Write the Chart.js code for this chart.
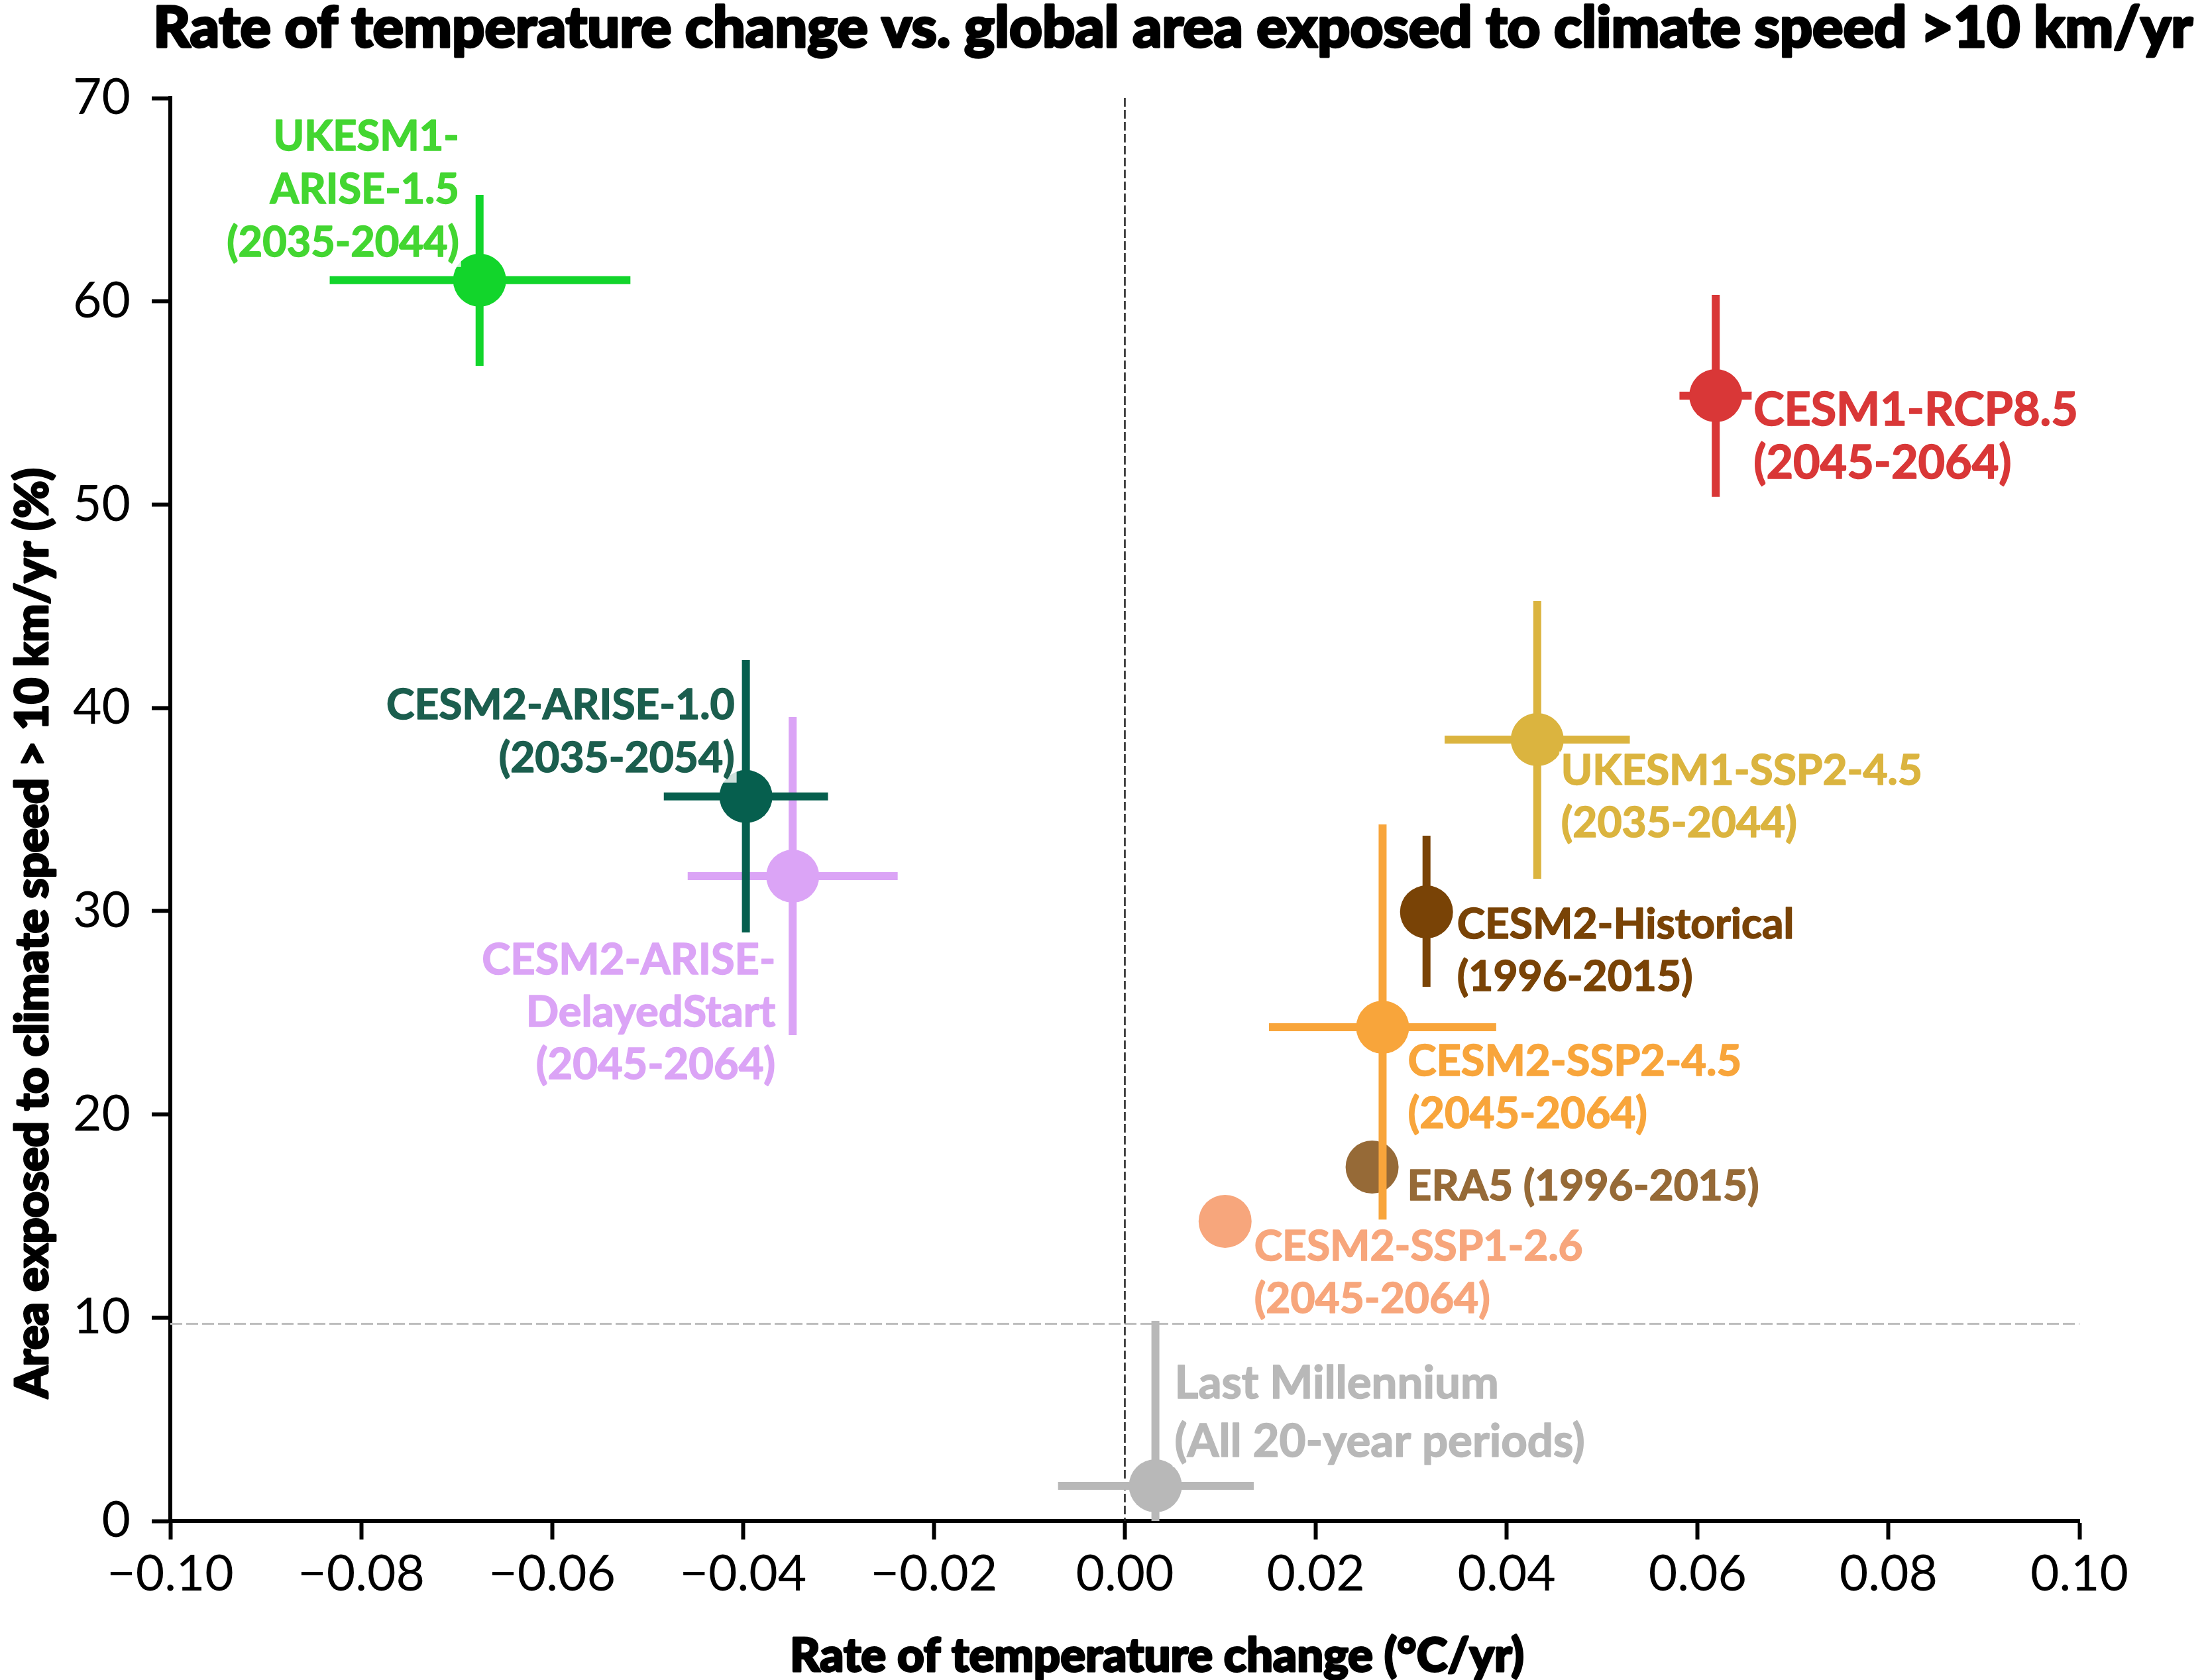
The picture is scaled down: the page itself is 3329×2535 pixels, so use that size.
<!DOCTYPE html>
<html>
<head>
<meta charset="utf-8">
<script src="https://cdn.jsdelivr.net/npm/chart.js@4.4.1/dist/chart.umd.min.js"></script>
<style>
  html, body { margin: 0; padding: 0; background: #fff; }
  #wrap { width: 3329px; height: 2535px; }
</style>
</head>
<body>
<div id="wrap"><canvas id="speedChart" width="3329" height="2535"></canvas></div>
<script>
// Experimentos, en orden de dibujo (el último queda encima)
const names = [
    'Last Millennium', 'ERA5', 'CESM2-SSP1-2.6', 'CESM2-SSP2-4.5', 'CESM2-Historical',
    'UKESM1-SSP2-4.5', 'CESM1-RCP8.5', 'CESM2-ARISE-DelayedStart', 'CESM2-ARISE-1.0', 'UKESM1-ARISE-1.5'
];
const labelLines = [
    ['Last Millennium', '(All 20-year periods)'],
    ['ERA5 (1996-2015)'],
    ['CESM2-SSP1-2.6', '(2045-2064)'],
    ['CESM2-SSP2-4.5', '(2045-2064)'],
    ['CESM2-Historical', '(1996-2015)'],
    ['UKESM1-SSP2-4.5', '(2035-2044)'],
    ['CESM1-RCP8.5', '(2045-2064)'],
    ['CESM2-ARISE-', 'DelayedStart', '(2045-2064)'],
    ['CESM2-ARISE-1.0', '(2035-2054)'],
    ['UKESM1-', 'ARISE-1.5', '(2035-2044)']
];

// Tasa de cambio de temperatura (°C/año) y su rango
const rate   = [0.0032, 0.0259, 0.0105, 0.0270, 0.0316, 0.0432, 0.0619, -0.0348, -0.0397, -0.0676];
const rateLo = [-0.0070, null, null, 0.0151, null, 0.0335, 0.0581, -0.0458, -0.0483, -0.0833];
const rateHi = [0.0135, null, null, 0.0389, null, 0.0529, 0.0657, -0.0238, -0.0311, -0.0518];

// Área expuesta a velocidad climática > 10 km/año (%) y su rango
const area   = [1.73, 17.41, 14.74, 24.29, 29.96, 38.44, 55.36, 31.72, 35.64, 61.04];
const areaLo = [-6.4, null, null, 14.83, 26.28, 31.59, 50.38, 23.90, 28.95, 56.83];
const areaHi = [9.85, null, null, 34.27, 33.71, 45.25, 60.32, 39.55, 42.35, 65.24];

const colors = ['#b8b8b8', '#966a37', '#f7a67c', '#f8a53b', '#794306', '#dbb43f', '#d93737', '#dba4f6', '#065f4e', '#12d52b'];
const labelColors = ['#b8b8b8', '#966a37', '#f7a67c', '#f8a53b', '#794306', '#dbb43f', '#d93737', '#dba4f6', '#1b5e4e', '#43d631'];

const xTicks = [-0.10, -0.08, -0.06, -0.04, -0.02, 0.00, 0.02, 0.04, 0.06, 0.08, 0.10];
const yTicks = [0, 10, 20, 30, 40, 50, 60, 70];

const refRate = 0;    // línea vertical discontinua
const refArea = 9.7;  // línea horizontal gris (máximo del último milenio)

// Posición de cada etiqueta respecto al marcador (px)
const labelPos = [
    { align: 'left',  dx: 29,  dy: -132, lh: 88, size: 69 },
    { align: 'left',  dx: 53,  dy: 50,   lh: 79, size: 64 },
    { align: 'left',  dx: 44,  dy: 59,   lh: 79, size: 64 },
    { align: 'left',  dx: 38,  dy: 73,   lh: 79, size: 65 },
    { align: 'left',  dx: 46,  dy: 40,   lh: 79, size: 64 },
    { align: 'left',  dx: 36,  dy: 68,   lh: 79, size: 64 },
    { align: 'left',  dx: 57,  dy: 45,   lh: 80, size: 70 },
    { align: 'right', dx: -26, dy: 148,  lh: 79, size: 65 },
    { align: 'right', dx: -17, dy: -117, lh: 80, size: 64 },
    { align: 'right', dx: -31, dy: -196, lh: 80, size: 63 }
];

const FONT = 'Lato, "Noto Sans", sans-serif';

function fmtRate(v) {
    return (v < 0 ? '\u2212' : '') + Math.abs(v).toFixed(2);
}

// Construir datasets: barras de error y marcador por experimento
const datasets = [];
let drawIdx = 0;
names.forEach((name, i) => {
    const c = colors[i];
    const bar = {
        showLine: true, pointRadius: 0, pointHoverRadius: 0,
        borderColor: c, backgroundColor: c, borderWidth: 12,
        borderCapStyle: 'butt', fill: false, tension: 0
    };
    if (rateLo[i] !== null) {
        datasets.push(Object.assign({}, bar, {
            label: name + ' x',
            data: [{ x: rateLo[i], y: area[i] }, { x: rateHi[i], y: area[i] }],
            order: 1000 - drawIdx++
        }));
    }
    if (areaLo[i] !== null) {
        datasets.push(Object.assign({}, bar, {
            label: name + ' y',
            data: [{ x: rate[i], y: areaLo[i] }, { x: rate[i], y: areaHi[i] }],
            order: 1000 - drawIdx++
        }));
    }
    datasets.push({
        label: name,
        data: [{ x: rate[i], y: area[i] }],
        showLine: false,
        pointRadius: 40, pointHoverRadius: 40,
        pointBackgroundColor: c, pointBorderWidth: 0, pointBorderColor: c,
        order: 1000 - drawIdx++
    });
});

// Texto con trazo para simular un peso más grueso
function heavyText(ctx, t, x, y, w) {
    ctx.lineWidth = w;
    ctx.lineJoin = 'round';
    ctx.strokeStyle = ctx.fillStyle;
    ctx.strokeText(t, x, y);
    ctx.fillText(t, x, y);
}

// Líneas de referencia, etiquetas y títulos
const decorPlugin = {
    id: 'decor',
    beforeDatasetsDraw(chart) {
        const { ctx, chartArea: a, scales: { x, y } } = chart;
        ctx.save();
        ctx.lineWidth = 3;
        ctx.strokeStyle = '#bdbdbd';
        ctx.setLineDash([18, 6]);
        const py = y.getPixelForValue(refArea);
        ctx.beginPath(); ctx.moveTo(a.left, py); ctx.lineTo(a.right, py); ctx.stroke();
        ctx.strokeStyle = '#222';
        ctx.lineWidth = 2.5;
        ctx.setLineDash([13, 5]);
        const px = x.getPixelForValue(refRate);
        ctx.beginPath(); ctx.moveTo(px, a.top); ctx.lineTo(px, a.bottom); ctx.stroke();
        ctx.restore();
    },
    afterDatasetsDraw(chart) {
        const { ctx, scales: { x, y } } = chart;
        ctx.save();
        ctx.textBaseline = 'alphabetic';
        names.forEach((name, i) => {
            const p = labelPos[i];
            ctx.font = `bold ${p.size}px ${FONT}`;
            const mx = x.getPixelForValue(rate[i]);
            const my = y.getPixelForValue(area[i]);
            const lines = labelLines[i];
            const w = Math.max(...lines.map(t => ctx.measureText(t).width));
            const bx = p.align === 'left' ? mx + p.dx : mx + p.dx - w;
            const top = my + p.dy - 50;
            const bottom = my + p.dy + p.lh * (lines.length - 1) + 16;
            ctx.fillStyle = 'rgba(255,255,255,0.8)';
            ctx.fillRect(bx - 3, top, w + 6, bottom - top);
            ctx.fillStyle = labelColors[i];
            ctx.textAlign = p.align;
            lines.forEach((t, k) => {
                heavyText(ctx, t, mx + p.dx, my + p.dy + k * p.lh, 1.6);
            });
        });
        ctx.restore();
    },
    afterDraw(chart) {
        const ctx = chart.ctx;
        const fit = (text, weight, target) => {
            ctx.font = `${weight} 100px ${FONT}`;
            const s = 100 * target / ctx.measureText(text).width;
            ctx.font = `${weight} ${s}px ${FONT}`;
        };
        ctx.save();
        ctx.fillStyle = '#000';
        ctx.textAlign = 'center';
        ctx.textBaseline = 'alphabetic';
        const title = 'Rate of temperature change vs. global area exposed to climate speed >10 km/yr';
        fit(title, 900, 3078);
        heavyText(ctx, title, 1770, 71, 3.5);
        const xTitle = 'Rate of temperature change (\u00B0C/yr)';
        fit(xTitle, 900, 1108);
        heavyText(ctx, xTitle, 1746, 2522, 3);
        const yTitle = 'Area exposed to climate speed > 10 km/yr (%)';
        fit(yTitle, 900, 1404);
        ctx.translate(72, 1408);
        ctx.rotate(-Math.PI / 2);
        heavyText(ctx, yTitle, 0, 0, 3);
        ctx.restore();
    }
};

const ctx = document.getElementById('speedChart').getContext('2d');
new Chart(ctx, {
    type: 'scatter',
    data: { datasets: datasets },
    options: {
        responsive: false,
        devicePixelRatio: 1,
        animation: false,
        events: [],
        layout: { padding: { top: 148, right: 191, left: 0, bottom: 0 } },
        plugins: { legend: { display: false }, tooltip: { enabled: false }, title: { display: false } },
        scales: {
            x: {
                type: 'linear', min: -0.1, max: 0.1,
                afterBuildTicks: s => { s.ticks = xTicks.map(v => ({ value: v })); },
                afterFit: s => { s.height = 240; },
                ticks: {
                    callback: v => fmtRate(v), autoSkip: false, maxRotation: 0,
                    font: { family: FONT, size: 75 }, color: '#000', padding: 8
                },
                grid: { drawOnChartArea: false, drawTicks: true, tickLength: 28, tickWidth: 6, tickColor: '#000' },
                border: { display: true, color: '#000', width: 6 }
            },
            y: {
                type: 'linear', min: 0, max: 70,
                afterBuildTicks: s => { s.ticks = yTicks.map(v => ({ value: v })); },
                afterFit: s => { s.width = 257; },
                ticks: {
                    callback: v => String(v), autoSkip: false,
                    font: { family: FONT, size: 75 }, color: '#000', padding: 32
                },
                grid: { drawOnChartArea: false, drawTicks: true, tickLength: 28, tickWidth: 6, tickColor: '#000' },
                border: { display: true, color: '#000', width: 6 }
            }
        }
    },
    plugins: [decorPlugin]
});
</script>
</body>
</html>
